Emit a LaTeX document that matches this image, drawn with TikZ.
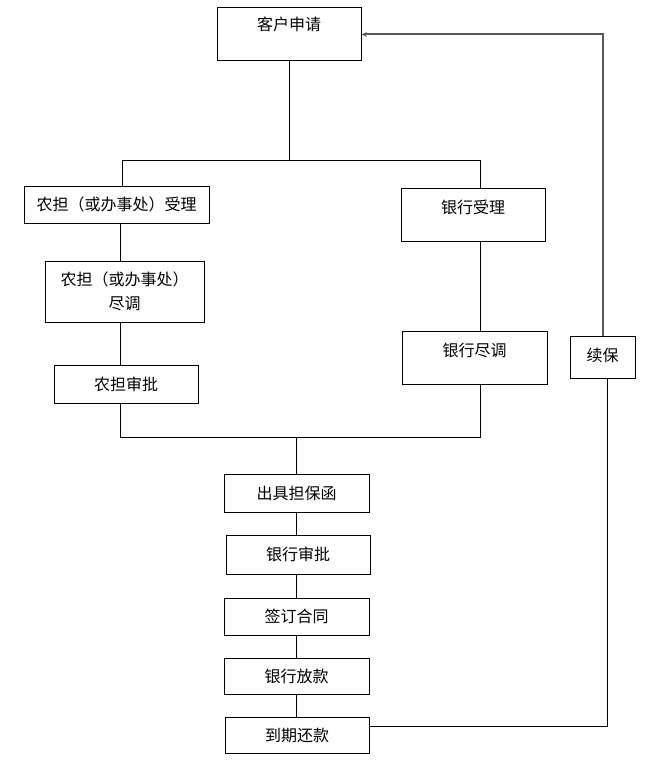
\documentclass[tikz,border=0pt]{standalone}
\usepackage{fontspec}
\setmainfont{Noto Sans CJK SC}
\usepackage{tikz}
\usetikzlibrary{arrows.meta}
\tikzset{
  font={\fontsize{12pt}{18pt}\selectfont}}

\begin{document}
\begin{tikzpicture}[x=0.75pt,y=-0.75pt,
  box/.style={draw=black,line width=0.75pt,inner sep=0pt,align=center},
  link/.style={black,line width=0.6pt},
  back/.style={draw=black!65,line width=1.5pt}]
\useasboundingbox (0,0) rectangle (655,774);
\node[box,minimum width=108pt,minimum height=39.75pt,text height=10.5pt,text depth=15.75pt] (kehu) at (289,34.5) {客户申请};
\node[box,minimum width=138.75pt,minimum height=27.75pt] (nd1) at (116.5,204.5) {农担（或办事处）受理};
\node[box,minimum width=108pt,minimum height=39.75pt,text height=10.5pt,text depth=12.75pt] (yh1) at (473,214.5) {银行受理};
\node[box,minimum width=119.25pt,minimum height=45.75pt] (nd2) at (124.5,291.5) {农担（或办事处）\\尽调};
\node[box,minimum width=108pt,minimum height=28.5pt] (nd3) at (126,384) {农担审批};
\node[box,minimum width=108.75pt,minimum height=39.75pt,text height=10.5pt,text depth=12.75pt] (yh2) at (474.5,357.5) {银行尽调};
\node[box,minimum width=48.75pt,minimum height=31.5pt,text height=10.5pt,text depth=4.5pt] (xb) at (602.5,357) {续保};
\node[box,minimum width=108.75pt,minimum height=28.5pt] (cj) at (296.5,493) {出具担保函};
\node[box,minimum width=108pt,minimum height=29.25pt] (sp) at (298,554.5) {银行审批};
\node[box,minimum width=108.75pt,minimum height=27.75pt] (qd) at (296.5,616.5) {签订合同};
\node[box,minimum width=108.75pt,minimum height=27pt] (fk) at (296.5,676) {银行放款};
\node[box,minimum width=108pt,minimum height=27pt] (dq) at (297,735) {到期还款};
\coordinate (fl) at (122,160);
\coordinate (fr) at (480,160);
\coordinate (jl) at (120,437);
\coordinate (jr) at (480,437);
\coordinate (jm) at (296,437);
\coordinate (ret) at (607,726);
\draw[link] (kehu.south) -- (kehu.south |- fl);
\draw[link] (fl |- nd1.north) -- (fl) -- (fr) -- (fr |- yh1.north);
\draw[link] (jl |- nd1.south) -- (jl |- nd2.north);
\draw[link] (jl |- nd2.south) -- (jl |- nd3.north);
\draw[link] (jl |- nd3.south) -- (jl) -- (jr) -- (jr |- yh2.south);
\draw[link] (jr |- yh1.south) -- (jr |- yh2.north);
\draw[link] (jm) -- (jm |- cj.north);
\foreach \a/\b in {cj/sp,sp/qd,qd/fk,fk/dq}
  \draw[link] (\a.south -| jm) -- (\b.north -| jm);
\draw[link] (dq.east |- ret) -- (ret) -- (ret |- xb.south);
\draw[back,-{Stealth[length=4pt,width=3.5pt]}] (xb.north) |- (kehu.east);
\end{tikzpicture}
\end{document}
